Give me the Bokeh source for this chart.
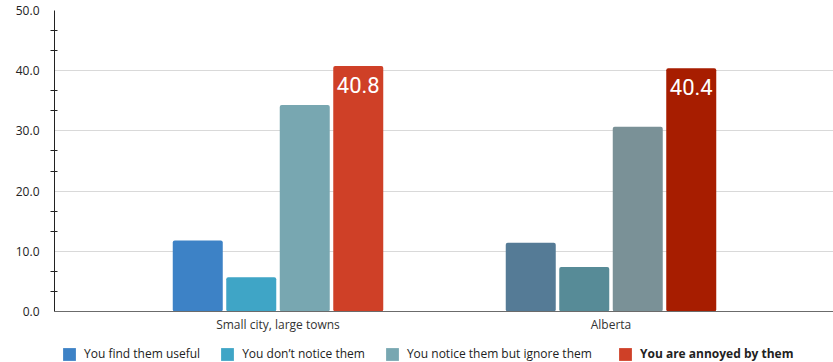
from bokeh.plotting import figure
from bokeh.layouts import column
from bokeh.models import (Range1d, FixedTicker, Legend, LegendItem, ColumnDataSource,
                          PrintfTickFormatter)
from bokeh.embed import file_html
from bokeh.resources import INLINE
from bokeh.core.properties import value

categories = ["Small city, large towns", "Alberta"]
series = ["You find them useful", "You don\u2019t notice them",
          "You notice them but ignore them", "You are annoyed by them"]
useful = [11.8, 11.4]
dont_notice = [5.7, 7.4]
ignore = [34.3, 30.7]
annoyed = [40.8, 40.4]
y_ticks = [0, 10, 20, 30, 40, 50]

colors_group1 = ["#3d82c6", "#3fa5c6", "#78a7b1", "#cf4027"]
colors_group2 = ["#557b96", "#578b97", "#7a9197", "#a71d00"]

FONT = "Open Sans"
W = 833
px_per_unit = 333.0
x_start = 0.5 - 223.5 / px_per_unit
x_end = x_start + 779.0 / px_per_unit

p = figure(width=W, height=338, output_backend="svg", toolbar_location=None,
           x_range=Range1d(x_start, x_end), y_range=Range1d(0, 50),
           min_border_left=54, min_border_right=0, min_border_top=10,
           min_border_bottom=27)
p.outline_line_color = None
p.background_fill_color = "white"
p.border_fill_color = "white"

step = 53.5 / px_per_unit
bar_w = 50.0 / px_per_unit
all_vals = [useful, dont_notice, ignore, annoyed]
renderers = []
for i, vals in enumerate(all_vals):
    off = (i - 1.5) * step
    src = ColumnDataSource(dict(
        x=[j + 0.5 + off for j in range(len(categories))],
        top=vals,
        color=[colors_group1[i], colors_group2[i]],
    ))
    r = p.vbar(x="x", top="top", width=bar_w, bottom=0, source=src,
               fill_color="color", line_color=None, border_radius=2)
    renderers.append(r)

# value labels on annoyed bars
lab_src = ColumnDataSource(dict(
    x=[j + 0.5 + 1.5 * step for j in range(len(categories))],
    y=annoyed,
    t=["%.1f" % v for v in annoyed],
))
p.text(x="x", y="y", text="t", source=lab_src, text_color="white",
       text_font=value("Roboto"), text_font_size="22px", text_align="center",
       text_baseline="top", y_offset=11)

# x axis
p.xaxis.ticker = FixedTicker(ticks=[0.5, 1.5])
p.xaxis.major_label_overrides = {0.5: categories[0], 1.5: categories[1]}
p.xaxis.major_tick_line_color = None
p.xaxis.minor_tick_line_color = None
p.xaxis.major_tick_out = 0
p.xaxis.major_tick_in = 0
p.xaxis.minor_tick_out = 0
p.xaxis.minor_tick_in = 0
p.xaxis.axis_line_color = "#6b6b6b"
p.xaxis.major_label_standoff = 4
p.xaxis.major_label_text_font = FONT
p.xaxis.major_label_text_font_size = "12px"
p.xaxis.major_label_text_color = "#333333"
p.xgrid.grid_line_color = None

# y axis
minor = []
for k in range(len(y_ticks) - 1):
    a, b = y_ticks[k], y_ticks[k + 1]
    minor += [a + (b - a) / 3.0, a + 2 * (b - a) / 3.0]
p.yaxis.ticker = FixedTicker(ticks=y_ticks, minor_ticks=minor)
p.yaxis.formatter = PrintfTickFormatter(format="%.1f")
p.yaxis.major_tick_in = 0
p.yaxis.major_tick_out = 0
p.yaxis.minor_tick_in = 3
p.yaxis.minor_tick_out = 4
p.yaxis.minor_tick_line_color = "#222222"
p.yaxis.axis_line_color = "#222222"
p.yaxis.major_label_standoff = 11
p.yaxis.major_label_text_font = FONT
p.yaxis.major_label_text_font_size = "12px"
p.yaxis.major_label_text_color = "#222222"
p.ygrid.grid_line_color = "#d9d9d9"

# legend strip (frame is aligned with the main plot's frame, which starts at x=54)
lg = figure(width=W, height=24, output_backend="svg", toolbar_location=None,
            x_range=Range1d(0, 1), y_range=Range1d(0, 1),
            min_border_left=54, min_border_right=0, min_border_top=0,
            min_border_bottom=0)
lg.axis.visible = False
lg.grid.visible = False
lg.outline_line_color = None
lg_rs = []
for i in range(len(series)):
    # a single off-range swatch so the legend has a glyph to draw
    lg_rs.append(lg.vbar(x=[5], top=[1], width=0.1, fill_color=colors_group1[i],
                         line_color=None))


def make_legend(items, loc, bold=False):
    return Legend(items=items, location=loc, orientation="horizontal",
                  glyph_width=16, glyph_height=16, label_standoff=7, spacing=19,
                  padding=0, margin=0, border_line_color=None,
                  background_fill_alpha=0, label_height=16,
                  label_text_font=FONT, label_text_font_size="12px",
                  label_text_color="#222222",
                  label_text_font_style="bold" if bold else "normal")


items1 = [LegendItem(label=series[i], renderers=[lg_rs[i]]) for i in range(3)]
items2 = [LegendItem(label=series[3], renderers=[lg_rs[3]])]
lg.add_layout(make_legend(items1, (7, 0)), "center")
lg.add_layout(make_legend(items2, (563, 0), bold=True), "center")

layout = column(p, lg, spacing=0)
open("out.html", "w").write(file_html(layout, INLINE))
